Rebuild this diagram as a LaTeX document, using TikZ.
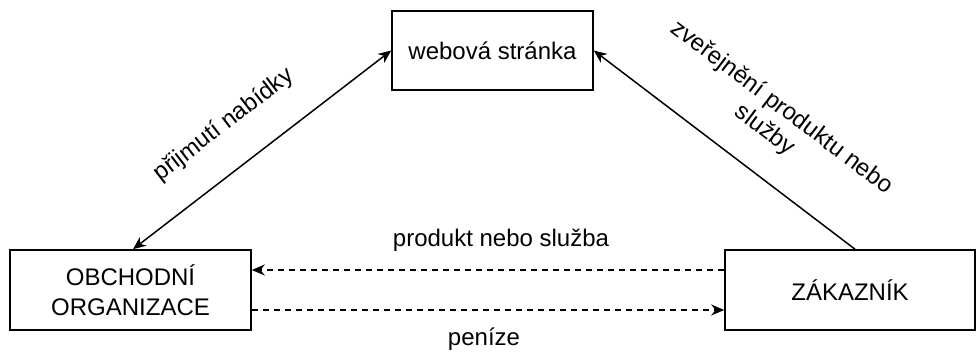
\documentclass[tikz,border=0pt]{standalone}
\usepackage{fontspec}
\setmainfont{Liberation Sans}
\usetikzlibrary{arrows.meta}
\begin{document}
\begin{tikzpicture}[x=1pt,y=-1pt,
  box/.style={draw, line width=1.6pt, inner sep=0pt, align=center, font=\fontsize{24}{30}\selectfont},
  lbl/.style={inner sep=0pt, align=center, font=\fontsize{24}{28}\selectfont},
  arr/.style={line width=1.5pt, -{Stealth[length=13pt,width=11pt]}},
  biarr/.style={line width=1.5pt, {Stealth[length=13pt,width=11pt]}-{Stealth[length=13pt,width=11pt]}},
  dsh/.style={arr, dash pattern=on 6pt off 5pt}]
\useasboundingbox (0,0) rectangle (979,351);
\node[box, minimum width=201pt, minimum height=79pt] (web) at (492.5,50.5) {webová stránka};
\node[box, minimum width=241pt, minimum height=80pt] (org) at (130.5,290) {OBCHODNÍ\\ORGANIZACE};
\node[box, minimum width=250pt, minimum height=80pt] (zak) at (850,290) {ZÁKAZNÍK};
\draw[biarr] ([xshift=2.5pt]org.north) -- (web.west);
\draw[arr] ([xshift=5pt]zak.north) -- (web.east);
\draw[dsh] ([yshift=20pt]zak.west) -- ([yshift=20pt]org.east);
\draw[dsh] ([yshift=-20pt]org.east) -- ([yshift=-20pt]zak.west);
\node[lbl] (l1) at (501,240) {produkt nebo služba};
\node[lbl] (l2) at (484,339) {peníze};
\node[lbl, rotate=37.5] (l3) at (224,125) {přijmutí nabídky};
\node[lbl, rotate=-37] (l4) at (773,119) {zveřejnění produktu nebo\\služby};
\end{tikzpicture}
\end{document}
